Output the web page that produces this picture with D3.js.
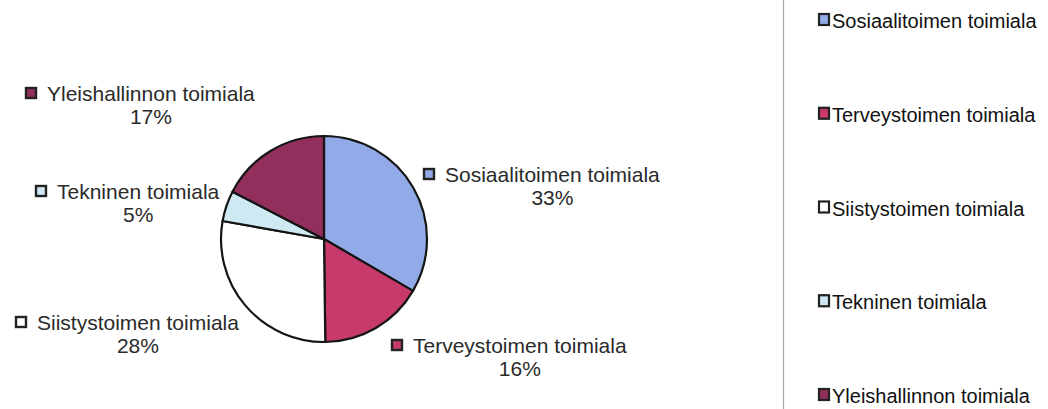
<!DOCTYPE html>
<html>
<head>
<meta charset="utf-8">
<script src="https://cdn.jsdelivr.net/npm/d3@7"></script>
<style>
  body { margin: 0; background: #fff; }
  svg { display: block; font-family: "Liberation Sans", Arial, sans-serif; }
</style>
</head>
<body>
<svg id="chart" width="1048" height="409"></svg>
<script>
// data
let categories = ["Sosiaalitoimen toimiala", "Terveystoimen toimiala", "Siistystoimen toimiala",
                  "Tekninen toimiala", "Yleishallinnon toimiala"];
let shares = [33.4, 16.4, 28.0, 4.8, 17.4];
let colors = ["#92abe8", "#c83a6c", "#ffffff", "#cfe9f3", "#932f5c"];

// where each data label sits (start of text, first baseline)
let labelPos = [[445, 182], [413, 353], [37, 330], [57, 199], [47, 101]];

let svg = d3.select("#chart");
let cx = 324, cy = 239, radius = 103;

let pie = d3.pie().sort(null).value(d => d.value);
let arc = d3.arc().innerRadius(0).outerRadius(radius);

let data = categories.map((c, i) => ({name: c, value: shares[i], color: colors[i]}));

let g = svg.append("g").attr("transform", `translate(${cx},${cy})`);
g.selectAll("path")
    .data(pie(data))
    .enter().append("path")
    .attr("d", arc)
    .attr("fill", d => d.data.color)
    .attr("stroke", "#151515")
    .attr("stroke-width", 2.2)
    .attr("stroke-linejoin", "round");

// data labels
let total = d3.sum(shares);
let fmt = d => Math.round(d / total * 100) + "%";
let lab = svg.selectAll(".lab")
    .data(data)
    .enter().append("g")
    .attr("class", "lab")
    .attr("transform", (d, i) => `translate(${labelPos[i][0]},${labelPos[i][1]})`);

lab.append("rect")
    .attr("x", -21).attr("y", -13)
    .attr("width", 10).attr("height", 10)
    .attr("fill", d => d.color)
    .attr("stroke", "#222")
    .attr("stroke-width", 2.4);

lab.append("text")
    .attr("class", "name")
    .attr("font-size", 21)
    .attr("fill", "#2a2a2a")
    .text(d => d.name);

lab.each(function(d){
    let w = d3.select(this).select("text.name").node().getComputedTextLength();
    d3.select(this).append("text")
        .attr("x", w / 2)
        .attr("y", 23)
        .attr("text-anchor", "middle")
        .attr("font-size", 21)
        .attr("fill", "#2a2a2a")
        .text(fmt(d.value));
});

// legend on the right
svg.append("line")
    .attr("x1", 783.5).attr("x2", 783.5)
    .attr("y1", 0).attr("y2", 409)
    .attr("stroke", "#aaaaaa")
    .attr("stroke-width", 1.2);

let ly = d3.scalePoint().domain(categories).range([28, 403]);
let leg = svg.selectAll(".leg")
    .data(data)
    .enter().append("g")
    .attr("class", "leg")
    .attr("transform", d => `translate(832,${ly(d.name)})`);

leg.append("rect")
    .attr("x", -13).attr("y", -14)
    .attr("width", 10).attr("height", 11)
    .attr("fill", d => d.color)
    .attr("stroke", "#222")
    .attr("stroke-width", 2.2);

leg.append("text")
    .attr("font-size", 20)
    .attr("fill", "#111")
    .text(d => d.name);
</script>
</body>
</html>
